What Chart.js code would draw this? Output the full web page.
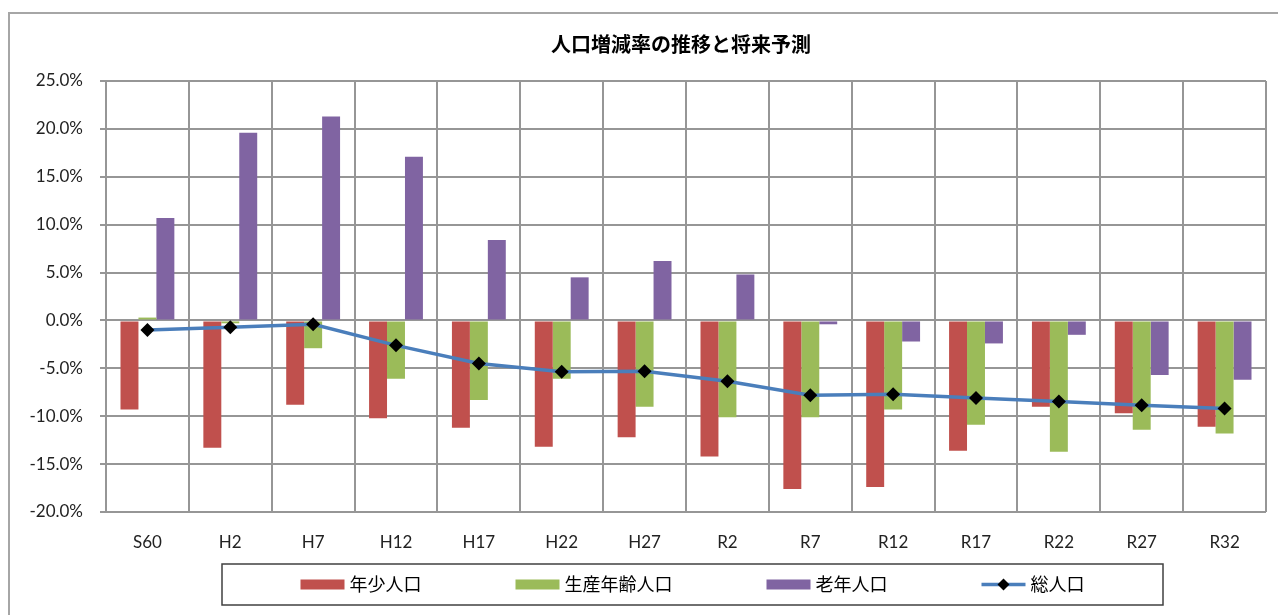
<!DOCTYPE html>
<html>
<head>
<meta charset="utf-8">
<script src="https://cdn.jsdelivr.net/npm/chart.js@4"></script>
<style>
  html, body { margin: 0; padding: 0; background: #fff; }
  #wrap { width: 1278px; height: 615px; }
</style>
</head>
<body>
<div id="wrap"><canvas id="popChart" width="1278" height="615"></canvas></div>
<script>
// data (%)
const categories = ['S60', 'H2', 'H7', 'H12', 'H17', 'H22', 'H27', 'R2', 'R7', 'R12', 'R17', 'R22', 'R27', 'R32'];
const youngRate = [-9.3, -13.3, -8.8, -10.2, -11.2, -13.2, -12.2, -14.2, -17.6, -17.4, -13.6, -9.0, -9.7, -11.1];
const workingRate = [0.3, -0.3, -2.9, -6.1, -8.3, -6.1, -9.0, -10.1, -10.1, -9.3, -10.9, -13.7, -11.4, -11.8];
const elderlyRate = [10.7, 19.6, 21.3, 17.1, 8.4, 4.5, 6.2, 4.8, -0.4, -2.2, -2.4, -1.5, -5.7, -6.2];
const totalRate = [-1.0, -0.7, -0.4, -2.6, -4.5, -5.35, -5.3, -6.35, -7.8, -7.7, -8.1, -8.45, -8.85, -9.2];

const seriesNames = ['年少人口', '生産年齢人口', '老年人口', '総人口'];
const chartTitle = '人口増減率の推移と将来予測';

const RED = '#C0504D', GREEN = '#9BBB59', PURPLE = '#8064A2', BLUE = '#4A7EBB';
const GRID = '#969696';
const CJK = '"Noto Sans CJK JP", "Noto Sans", sans-serif';

// outer frame + title
const framePlugin = {
  id: 'frame',
  beforeDraw(chart) {
    const ctx = chart.ctx;
    ctx.save();
    ctx.strokeStyle = '#a6a6a6';
    ctx.lineWidth = 2;
    ctx.strokeRect(9, 13, 1400, 800);
    ctx.restore();
  },
  afterDraw(chart) {
    const ctx = chart.ctx;
    const a = chart.chartArea;
    ctx.save();
    ctx.fillStyle = '#000';
    ctx.font = 'bold 20px ' + CJK;
    ctx.textAlign = 'center';
    ctx.textBaseline = 'middle';
    ctx.fillText(chartTitle, (a.left + a.right) / 2 - 5, 44);
    ctx.restore();
  }
};

// boxed legend like the spreadsheet one
const boxLegend = {
  id: 'boxLegend',
  afterDraw(chart) {
    const ctx = chart.ctx;
    const box = { left: 222, top: 564, width: 941, height: 41 };
    const swatchW = 44, gap = 5, itemGap = 94;
    const cy = box.top + box.height / 2;
    ctx.save();
    ctx.strokeStyle = '#404040';
    ctx.lineWidth = 1.5;
    ctx.strokeRect(box.left, box.top, box.width, box.height);

    ctx.font = '18px ' + CJK;
    ctx.textBaseline = 'middle';
    ctx.textAlign = 'left';
    const widths = chart.data.datasets.map(ds => swatchW + gap + ctx.measureText(ds.label).width);
    const total = widths.reduce((s, w) => s + w, 0) + itemGap * (widths.length - 1);
    let x = box.left + box.width / 2 - total / 2;

    // legend in the order of the reference (bars then line)
    [1, 2, 3, 0].forEach(i => {
      const ds = chart.data.datasets[i];
      const w = swatchW + gap + ctx.measureText(ds.label).width;
      if (ds.type === 'line') {
        ctx.strokeStyle = ds.borderColor;
        ctx.lineWidth = 3.5;
        ctx.beginPath();
        ctx.moveTo(x, cy);
        ctx.lineTo(x + swatchW, cy);
        ctx.stroke();
        ctx.fillStyle = '#000';
        ctx.beginPath();
        ctx.moveTo(x + swatchW / 2, cy - 6);
        ctx.lineTo(x + swatchW / 2 + 6, cy);
        ctx.lineTo(x + swatchW / 2, cy + 6);
        ctx.lineTo(x + swatchW / 2 - 6, cy);
        ctx.closePath();
        ctx.fill();
      } else {
        ctx.fillStyle = ds.backgroundColor;
        ctx.fillRect(x, cy - 5, swatchW, 10);
      }
      ctx.fillStyle = '#000';
      ctx.fillText(ds.label, x + swatchW + gap, cy);
      x += w + itemGap;
    });
    ctx.restore();
  }
};

new Chart(document.getElementById('popChart'), {
  data: {
    labels: categories,
    datasets: [
      {
        type: 'line',
        label: seriesNames[3],
        data: totalRate,
        borderColor: BLUE,
        backgroundColor: '#000',
        borderWidth: 3.5,
        pointStyle: 'rectRot',
        pointRadius: 7,
        pointHoverRadius: 7,
        pointBackgroundColor: '#000',
        pointBorderColor: '#000',
        pointBorderWidth: 0,
        tension: 0,
        order: 0
      },
      { type: 'bar', label: seriesNames[0], data: youngRate, backgroundColor: RED, order: 1 },
      { type: 'bar', label: seriesNames[1], data: workingRate, backgroundColor: GREEN, order: 1 },
      { type: 'bar', label: seriesNames[2], data: elderlyRate, backgroundColor: PURPLE, order: 1 }
    ]
  },
  options: {
    responsive: false,
    animation: false,
    devicePixelRatio: 1,
    layout: { padding: { left: 10, right: 12, top: 81, bottom: 0 } },
    datasets: {
      bar: { categoryPercentage: 0.65, barPercentage: 1.0 }
    },
    plugins: {
      legend: { display: false },
      title: { display: false },
      tooltip: { enabled: false }
    },
    scales: {
      x: {
        offset: true,
        grid: { offset: true, color: GRID, lineWidth: 2, drawTicks: false },
        border: { display: false },
        ticks: {
          padding: 20,
          color: '#222',
          font: { family: 'Lato, "Open Sans", sans-serif', size: 17 }
        },
        afterFit(scale) { scale.height = 103; }
      },
      y: {
        min: -20,
        max: 25,
        ticks: {
          stepSize: 5,
          padding: 17,
          color: '#222',
          font: { family: 'Lato, "Open Sans", sans-serif', size: 17 },
          callback: v => v.toFixed(1) + '%'
        },
        grid: { color: GRID, lineWidth: 2, tickLength: 6 },
        border: { display: true, color: GRID, width: 2 },
        afterFit(scale) { scale.width = 96; }
      }
    }
  },
  plugins: [framePlugin, boxLegend]
});
</script>
</body>
</html>
